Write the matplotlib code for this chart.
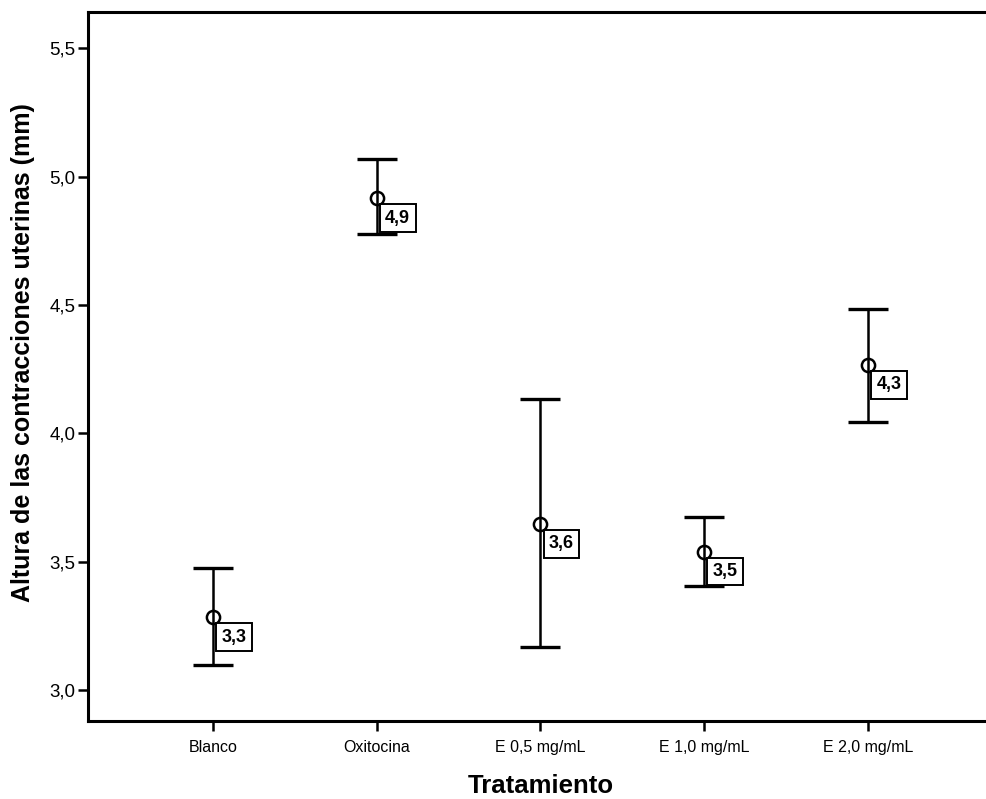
import matplotlib
matplotlib.use("Agg")
import matplotlib.pyplot as plt
import numpy as np

plt.rcParams['font.family'] = ['Liberation Sans', 'DejaVu Sans']

categories = ["Blanco", "Oxitocina", "E 0,5 mg/mL", "E 1,0 mg/mL", "E 2,0 mg/mL"]
means = [3.284, 4.916, 3.648, 3.540, 4.267]
upper = [3.475, 5.069, 4.134, 3.675, 4.484]
lower = [3.098, 4.776, 3.170, 3.406, 4.046]
y_ticks = [3.0, 3.5, 4.0, 4.5, 5.0, 5.5]
y_tick_labels = ["3,0", "3,5", "4,0", "4,5", "5,0", "5,5"]

fig = plt.figure(figsize=(9.87, 7.99), dpi=100)
ax = fig.add_axes([0.0892, 0.0976, 0.9168, 0.8874])

x = np.arange(len(categories))
m = np.array(means)
err = np.vstack([m - np.array(lower), np.array(upper) - m])

ax.errorbar(x, m, yerr=err, fmt='none', ecolor='black', elinewidth=1.8,
            capsize=14.5, capthick=2.4, zorder=2)
ax.plot(x, m, linestyle='none', marker='o', markersize=9.5,
        markerfacecolor='none', markeredgecolor='black', markeredgewidth=1.8,
        zorder=3)

for xi, mi in zip(x, means):
    ax.annotate(f"{mi:.1f}".replace('.', ','), xy=(xi, mi),
                xytext=(21, -20), textcoords='offset pixels',
                ha='center', va='center', fontsize=13, fontweight='bold',
                bbox=dict(boxstyle='square,pad=0.3', fc='white', ec='black', lw=1.4),
                zorder=4)

ax.set_xlim(-0.761, 4.761)
ax.set_ylim(2.880, 5.641)
ax.set_xticks(x)
ax.set_xticklabels(categories, fontsize=11.5)
ax.set_yticks(y_ticks)
ax.set_yticklabels(y_tick_labels, fontsize=13.5)
ax.tick_params(axis='both', direction='out', length=7, width=1.8, color='black')
ax.tick_params(axis='x', pad=7)
ax.tick_params(axis='y', pad=2)

for side in ['left', 'top', 'bottom']:
    ax.spines[side].set_linewidth(2.2)
ax.spines['right'].set_visible(False)

ax.set_xlabel("Tratamiento", fontsize=18.5, fontweight='bold', labelpad=13)
ax.set_ylabel("Altura de las contracciones uterinas (mm)", fontsize=18,
              fontweight='bold')
ax.yaxis.set_label_coords(-0.0586, 0.52)

fig.savefig("out.png", dpi=100, facecolor='white')
